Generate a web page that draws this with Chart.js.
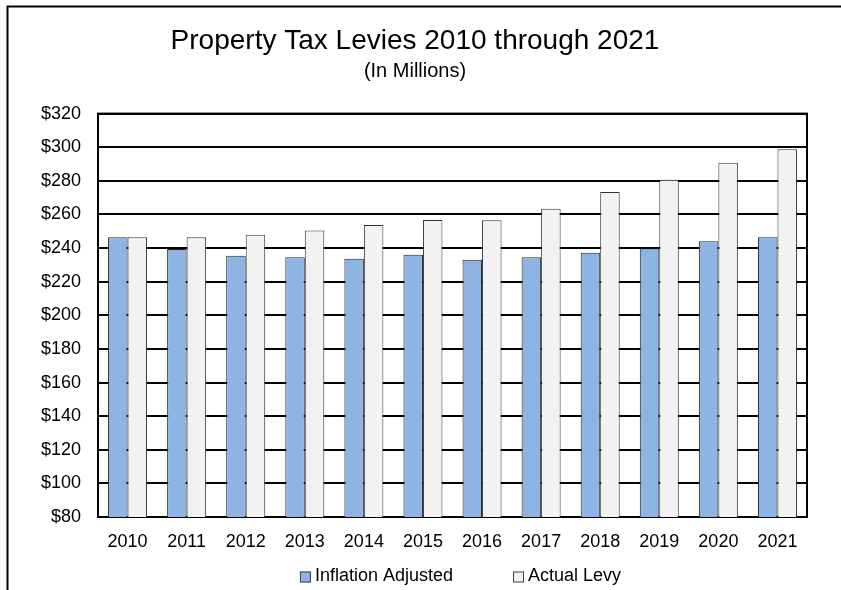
<!DOCTYPE html>
<html>
<head>
<meta charset="utf-8">
<title>Property Tax Levies</title>
<script src="https://cdn.jsdelivr.net/npm/chart.js@4.4.1/dist/chart.umd.min.js"></script>
<style>
	body { margin: 0; background: #fff; }
	#wrap { position: relative; width: 841px; height: 590px; }
</style>
</head>
<body>
<div id="wrap"><canvas id="chart-levies"></canvas></div>
<script>
// levy data, millions of dollars
var years = ['2010', '2011', '2012', '2013', '2014', '2015', '2016', '2017', '2018', '2019', '2020', '2021']
var inflationAdjusted = [246.5, 239.4, 235.4, 234.5, 233.7, 236.0, 233.1, 234.5, 237.2, 239.8, 244.0, 246.5]
var actualLevy = [246.5, 246.5, 247.9, 250.5, 253.7, 256.7, 256.6, 263.4, 273.3, 280.6, 290.7, 298.8]
var yTicks = [80, 100, 120, 140, 160, 180, 200, 220, 240, 260, 280, 300, 320]

var font = "'Liberation Sans', Arial, sans-serif"
Chart.defaults.font.family = font
Chart.defaults.color = '#000'

// outer box around the whole chart (open on the right)
var outerBorder = {
	id: 'outerBorder',
	afterDraw: function (chart) {
		var ctx = chart.ctx
		ctx.save()
		ctx.strokeStyle = '#000'
		ctx.lineWidth = 2
		ctx.strokeRect(7.5, 6.5, chart.width + 20, chart.height + 20)
		ctx.restore()
	}
}

// frame around the plot area, drawn under the bars
var plotFrame = {
	id: 'plotFrame',
	beforeDatasetsDraw: function (chart) {
		var a = chart.chartArea
		var ctx = chart.ctx
		ctx.save()
		ctx.strokeStyle = '#000'
		ctx.lineWidth = 2
		ctx.strokeRect(a.left, a.top, a.right - a.left, a.bottom - a.top)
		ctx.restore()
	}
}

// legend under the axis with wide spacing between entries
var wideLegend = {
	id: 'wideLegend',
	afterDraw: function (chart) {
		var ctx = chart.ctx
		var a = chart.chartArea
		var sets = chart.data.datasets
		var box = 11, gap = 4, spacing = 60
		ctx.save()
		ctx.font = '18px ' + font
		var widths = sets.map(ds => box + gap + ctx.measureText(ds.label).width)
		var total = widths.reduce((s, w) => s + w, 0) + spacing * (sets.length - 1)
		var x = (a.left + a.right) / 2 + 8 - total / 2
		var y = a.bottom + 60
		sets.forEach((ds, i) => {
			ctx.fillStyle = ds.backgroundColor
			ctx.fillRect(x, y - box / 2, box, box)
			ctx.strokeStyle = '#404040'
			ctx.lineWidth = 1
			ctx.strokeRect(x + 0.5, y - box / 2 + 0.5, box - 1, box - 1)
			ctx.fillStyle = '#000'
			ctx.textBaseline = 'middle'
			ctx.fillText(ds.label, x + box + gap, y - 1)
			x += widths[i] + spacing
		})
		ctx.restore()
	}
}

var ctx = document.getElementById('chart-levies').getContext('2d')

var chart = new Chart(ctx, {
	type: 'bar',
	data: {
		labels: years,
		datasets: [{
			label: 'Inflation Adjusted',
			data: inflationAdjusted,
			backgroundColor: '#8DB4E2',
			borderColor: '#262626',
			borderWidth: 1
		}, {
			label: 'Actual Levy',
			data: actualLevy,
			backgroundColor: '#F2F2F2',
			borderColor: '#333333',
			borderWidth: 1
		}]
	},
	options: {
		responsive: true,
		maintainAspectRatio: false,
		animation: false,
		layout: {
			padding: { left: 23, right: 34, top: 0, bottom: 40 }
		},
		datasets: {
			bar: {
				categoryPercentage: 0.66,
				barPercentage: 1
			}
		},
		plugins: {
			legend: { display: false },
			tooltip: { enabled: false },
			title: {
				display: true,
				text: 'Property Tax Levies 2010 through 2021',
				font: { size: 28, weight: 'normal' },
				padding: { top: 24, bottom: 0 }
			},
			subtitle: {
				display: true,
				text: '(In Millions)',
				font: { size: 20 },
				color: '#000',
				padding: { top: 2, bottom: 30 }
			}
		},
		scales: {
			x: {
				grid: { display: false },
				border: { display: false },
				ticks: { font: { size: 18 }, padding: 6, maxRotation: 0 },
				afterFit: function (scale) { scale.height = 33 }
			},
			y: {
				min: yTicks[0],
				max: yTicks[yTicks.length - 1],
				grid: { color: '#000', lineWidth: 2, drawTicks: false },
				border: { display: false },
				afterBuildTicks: function (scale) {
					scale.ticks = yTicks.map(v => ({ value: v }))
				},
				ticks: {
					font: { size: 18 },
					padding: 17,
					callback: value => '$' + value
				},
				afterFit: function (scale) { scale.width = 75 }
			}
		}
	},
	plugins: [outerBorder, plotFrame, wideLegend]
})
</script>
</body>
</html>
